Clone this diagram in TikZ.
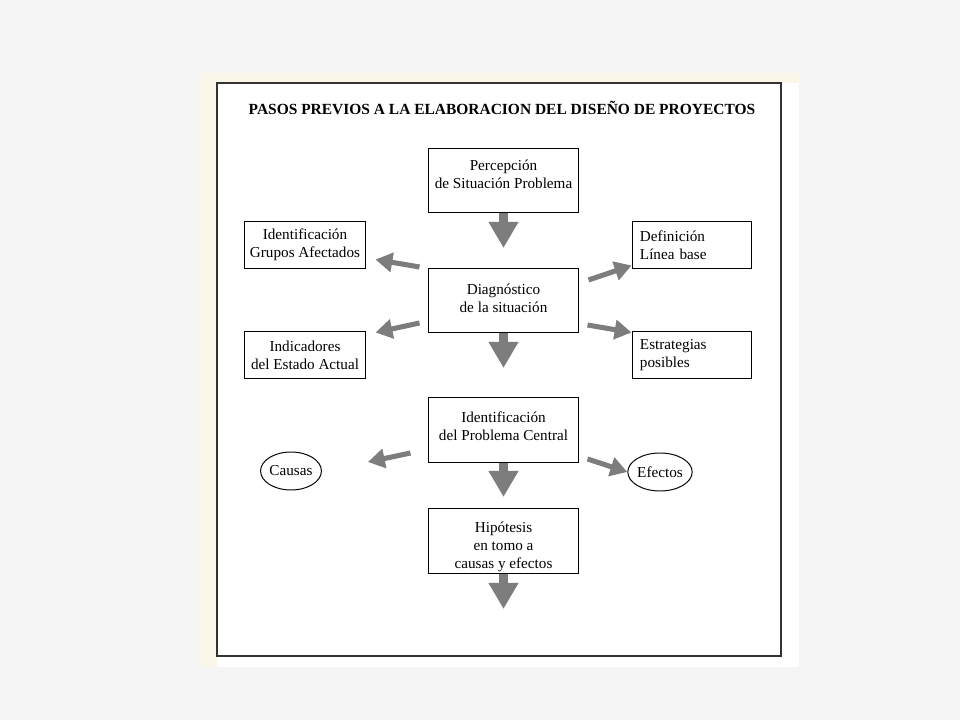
\documentclass[tikz,border=0pt]{standalone}
\usepackage{fontspec}
\setmainfont{Liberation Serif}
\usetikzlibrary{arrows.meta,shapes.geometric}
\definecolor{flecha}{RGB}{125,125,125}
\definecolor{crema}{RGB}{250,246,234}
\definecolor{fondo}{RGB}{245,245,245}
\begin{document}
\begin{tikzpicture}[x=0.025cm,y=-0.025cm,
    texto/.style={font=\fontsize{10.8}{12.8}\selectfont},
    caja/.style={texto,draw,line width=0.7pt,anchor=north,inner xsep=0pt,inner ysep=0pt,
      minimum width=3.725cm,text height=1.0cm,text depth=0.6cm,align=center},
    ladoizq/.style={texto,draw,line width=0.7pt,inner xsep=1pt,minimum width=3cm,
      minimum height=1.15cm,align=center},
    ladoder/.style={texto,draw,line width=0.7pt,inner xsep=0.2cm,text width=2.575cm,
      minimum height=1.15cm,align=left},
    elipse/.style={texto,draw,ellipse,line width=0.7pt,inner sep=0pt,
      minimum width=1.425cm,minimum height=0.95cm},
    grueso/.style={color=flecha,line width=7.1pt,-{Triangle[width=20pt,length=18.5pt]}},
    delgado/.style={color=flecha,line width=3.6pt,-{Triangle[width=13.5pt,length=12pt]}}]
      \fill[fondo] (0,0) rectangle (960,720);
      \fill[white] (199,73) rectangle (799,667);
      \fill[crema] (199,73) rectangle (799,83) (199,73) rectangle (217,667);
      \draw[black!80,line width=0.8pt,fill=white] (217,83) rectangle (781,656);
      \draw
        (502,108) node[font=\bfseries\fontsize{11}{13}\selectfont] (titulo){PASOS PREVIOS A LA ELABORACION DEL DISEÑO DE PROYECTOS}
        (503.5,148) node[caja] (percep){Percepción\\de Situación Problema}
        (503.5,268) node[caja,text height=1.1cm,text depth=0.5cm] (diag){Diagnóstico\\de la situación}
        (503.5,397) node[caja,text height=1.075cm,text depth=0.55cm] (prob){Identificación\\del Problema Central}
        (503.5,508) node[caja,text height=1.5cm,text depth=0.125cm] (hipo){Hipótesis\\en tomo a\\causas y efectos}
        (305,245) node[ladoizq] (grupos){Identificación\\Grupos Afectados}
        (305,355) node[ladoizq] (indic){Indicadores\\del Estado Actual}
        (691.5,245) node[ladoder] (linea){Definición\\Línea base}
        (691.5,355) node[ladoder] (estrat){Estrategias\\posibles}
        (291,471) node[elipse] (causas){Causas}
        (660,472) node[elipse] (efectos){Efectos};
      \coordinate (fin) at (503.5,609);
      \begin{scope}[grueso]
        \draw[shorten >=0.5cm] (percep) to (diag);
        \draw[shorten >=0.725cm] (diag) to (prob);
        \draw[shorten >=0.275cm] (prob) to (hipo);
        \draw (hipo) to (fin);
      \end{scope}
      \begin{scope}[delgado]
        \draw ([shift={(-9,-1)}]diag.north west) to ([shift={(10,-9)}]grupos.south east);
        \draw ([shift={(10,12)}]diag.north east) to ([shift={(0,-3)}]linea.south west);
        \draw ([shift={(-9,-10)}]diag.south west) to ([shift={(10,1)}]indic.north east);
        \draw ([shift={(9,-8)}]diag.south east) to ([shift={(0,1)}]estrat.north west);
        \draw ([shift={(-18,-10)}]prob.south west) to ([shift={(46,-9)}]causas.east);
        \draw ([shift={(9,-4)}]prob.south east) to (efectos.west);
      \end{scope}
    \end{tikzpicture}
\end{document}
